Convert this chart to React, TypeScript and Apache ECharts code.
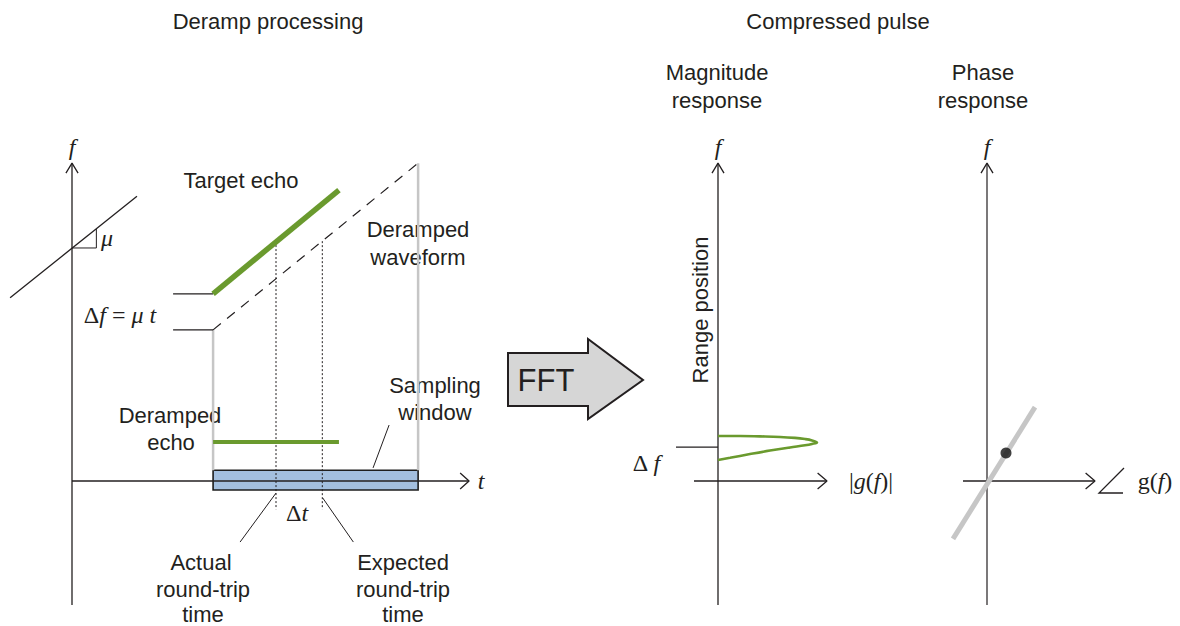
import React, { useEffect, useRef } from "react";
import * as echarts from "echarts";

// ---------- Deramp processing panel (t, f units) ----------
const fAxisDeramp = [[0, -6.36], [0, 16.3]];
const fArrowDeramp = [[-0.3, 15.79], [0, 16.3], [0.3, 15.79]];
const tAxis = [[0, 0], [19.56, 0]];
const tArrow = [[19.12, 0.41], [19.56, 0], [19.12, -0.41]];
const chirpRef = [[-3.05, 9.4], [3.2, 14.6]];
const slopeTriangle = [[0, 11.95], [1.2, 11.95], [1.2, 12.92]];
const targetTick = [[4.98, 9.6], [6.95, 9.6]];
const derampTick = [[4.98, 7.75], [6.95, 7.75]];
const windowEdgeStart = [[6.95, 7.75], [6.95, 0.55]];
const windowEdgeEnd = [[17.05, 16.3], [17.05, 0.55]];
const actualTime = [[10.05, 12.1], [10.05, -1.45]];
const expectedTime = [[12.33, 12.3], [12.33, -1.45]];
const derampedWaveform = [[6.95, 7.75], [17.05, 16.3]];
const targetEcho = [[6.95, 9.6], [13.15, 14.92]];
const derampedEcho = [[6.95, 2], [13.15, 2]];
const samplingWindow = [[6.95, 0.55], [17.05, -0.46]];
const windowLeader = [[14.83, 0.67], [15.62, 2.87]];
const actualLeader = [[10.05, -0.62], [8.28, -3.13]];
const expectedLeader = [[12.35, -0.87], [13.86, -3.13]];

// ---------- Magnitude response panel (|g|, f units) ----------
const fAxisMag = [[0, -6.36], [0, 16.3]];
const fArrowMag = [[-0.3, 15.79], [0, 16.3], [0.3, 15.79]];
const gAxisMag = [[-1.2, 0], [5.45, 0]];
const gArrowMag = [[4.98, 0.41], [5.45, 0], [4.98, -0.41]];
const deltaFTick = [[-2.1, 1.74], [0, 1.74]];
const magnitudeCurve = [
  [0, 2.31], [1.1, 2.31], [2.1, 2.29], [3.1, 2.26], [3.85, 2.21], [4.35, 2.15],
  [4.7, 2.08], [4.95, 1.98], [4.7, 1.9], [4.35, 1.83], [3.6, 1.72], [2.6, 1.56],
  [1.6, 1.38], [0.6, 1.19], [0, 1.08],
];

// ---------- Phase response panel (angle, f units) ----------
const fAxisPhase = [[0, -6.36], [0, 16.3]];
const fArrowPhase = [[-0.3, 15.79], [0, 16.3], [0.3, 15.79]];
const gAxisPhase = [[-1.2, 0], [5.4, 0]];
const gArrowPhase = [[4.93, 0.41], [5.4, 0], [4.93, -0.41]];
const phaseLine = [[-1.7, -2.97], [2.4, 3.79]];
const phasePoint = [[0.95, 1.44]];

const SANS = "'Liberation Sans', Arial, sans-serif";
const SERIF = "'Liberation Serif', 'DejaVu Serif', serif";
const INK = "#231f20";
const GREEN = "#6a9a2e";
const GRAY = "#c6c6c6";

function seg(data: number[][], g: number, color = INK, width = 1.3, type: any = "solid", z = 3): any {
  return {
    type: "line",
    xAxisIndex: g,
    yAxisIndex: g,
    data,
    symbol: "none",
    silent: true,
    z,
    lineStyle: { color, width, type, cap: "butt" },
  };
}

function txt(x: number, y: number, text: string, font = `22px ${SANS}`, extra: any = {}): any {
  return {
    type: "text",
    x,
    y,
    silent: true,
    ...extra,
    style: { text, font, fill: INK, textAlign: "center", textVerticalAlign: "middle", ...(extra.style || {}) },
  };
}

function mathTxt(x: number, y: number, text: string): any {
  return {
    type: "text",
    x,
    y,
    silent: true,
    style: {
      text,
      textAlign: "center",
      textVerticalAlign: "middle",
      fill: INK,
      rich: {
        n: { font: `24px ${SERIF}`, fill: INK },
        i: { font: `italic 24px ${SERIF}`, fill: INK },
      },
    },
  };
}

export default function App() {
  const ref = useRef<HTMLDivElement>(null);
  useEffect(() => {
    const chart = echarts.init(ref.current!, undefined, { renderer: "svg" });
    const hiddenX = (min: number, max: number, gi: number) => ({ type: "value", gridIndex: gi, min, max, show: false });
    const hiddenY = (gi: number) => ({ type: "value", gridIndex: gi, min: -6.5, max: 17.5, show: false });

    const italic = `italic 24px ${SERIF}`;
    const option: any = {
      animation: false,
      backgroundColor: "#ffffff",
      grid: [
        { left: 7.04, top: 139.75, width: 470.96, height: 468 },
        { left: 668, top: 139.75, width: 170, height: 468 },
        { left: 947, top: 139.75, width: 160, height: 468 },
      ],
      xAxis: [hiddenX(-3.2, 20, 0), hiddenX(-2.5, 6, 1), hiddenX(-2, 6, 2)],
      yAxis: [hiddenY(0), hiddenY(1), hiddenY(2)],
      series: [
        {
          type: "line",
          xAxisIndex: 0,
          yAxisIndex: 0,
          data: [],
          symbol: "none",
          silent: true,
          markArea: {
            silent: true,
            label: { show: false },
            itemStyle: { color: "#a3bfdf", borderColor: "#1e1e1e", borderWidth: 1.6 },
            data: [[{ coord: samplingWindow[0] }, { coord: samplingWindow[1] }]],
          },
        },
        seg(windowEdgeStart, 0, GRAY, 2.5),
        seg(windowEdgeEnd, 0, GRAY, 2.5),
        seg(fAxisDeramp, 0),
        seg(fArrowDeramp, 0),
        seg(tAxis, 0),
        seg(tArrow, 0),
        seg(chirpRef, 0),
        seg(slopeTriangle, 0, INK, 1),
        seg(targetTick, 0),
        seg(derampTick, 0),
        seg(actualTime, 0, INK, 1, [2, 2]),
        seg(expectedTime, 0, INK, 1, [2, 2]),
        seg(derampedWaveform, 0, INK, 1.2, [10, 8]),
        seg(targetEcho, 0, GREEN, 5.5, "solid", 4),
        seg(derampedEcho, 0, GREEN, 4, "solid", 4),
        seg(windowLeader, 0, INK, 1),
        seg(actualLeader, 0, INK, 1),
        seg(expectedLeader, 0, INK, 1),
        // magnitude
        seg(fAxisMag, 1),
        seg(fArrowMag, 1),
        seg(gAxisMag, 1),
        seg(gArrowMag, 1),
        seg(deltaFTick, 1),
        { ...seg(magnitudeCurve, 1, GREEN, 2.6, "solid", 4), smooth: 0.4 },
        // phase
        seg(fAxisPhase, 2, INK, 1.2),
        seg(fArrowPhase, 2),
        seg(gAxisPhase, 2),
        seg(gArrowPhase, 2),
        seg(phaseLine, 2, GRAY, 5, "solid", 4),
        {
          type: "scatter",
          xAxisIndex: 2,
          yAxisIndex: 2,
          data: phasePoint,
          symbol: "circle",
          symbolSize: 11,
          silent: true,
          z: 6,
          itemStyle: { color: "#111111" },
        },
      ],
      graphic: [
        txt(268, 21, "Deramp processing"),
        txt(838, 21, "Compressed pulse"),
        txt(717, 72, "Magnitude"),
        txt(717, 100, "response"),
        txt(983, 72, "Phase"),
        txt(983, 100, "response"),
        txt(72, 147, "f", italic),
        txt(718, 147, "f", italic),
        txt(987, 147, "f", italic),
        txt(241, 180, "Target echo"),
        txt(418, 229, "Deramped"),
        txt(418, 257, "waveform"),
        txt(107, 238, "μ", italic),
        mathTxt(120, 315, "{n|Δ}{i|f}{n| = }{i|μ t}"),
        txt(435, 385, "Sampling"),
        txt(435, 412, "window"),
        txt(170, 415, "Deramped"),
        txt(171, 442, "echo"),
        txt(481, 481, "t", italic),
        mathTxt(297, 513, "{n|Δ}{i|t}"),
        txt(201, 562, "Actual"),
        txt(203, 589, "round-trip"),
        txt(203, 614, "time"),
        txt(403, 562, "Expected"),
        txt(403, 589, "round-trip"),
        txt(403, 614, "time"),
        {
          type: "polygon",
          silent: true,
          shape: { points: [[508, 353], [588, 353], [588, 339], [643, 380], [588, 419], [588, 406], [508, 406]] },
          style: { fill: "#d6d6d6", stroke: INK, lineWidth: 2 },
        },
        txt(546, 380, "FFT", `31px ${SANS}`),
        txt(700, 310, "Range position", `22px ${SANS}`, { rotation: Math.PI / 2 }),
        mathTxt(646, 463, "{n|Δ }{i|f}"),
        mathTxt(871, 481, "{n||}{i|g}{n|(}{i|f}{n|)|}"),
        {
          type: "polyline",
          silent: true,
          shape: { points: [[1124, 468], [1099, 493], [1123, 493]] },
          style: { stroke: INK, lineWidth: 1.3, fill: null },
        },
        mathTxt(1155, 481, "{n|g(}{i|f}{n|)}"),
      ],
    };
    chart.setOption(option);
    return () => chart.dispose();
  }, []);
  return (
    <div
      ref={ref}
      style={{ position: "fixed", left: 0, top: 0, width: 1180, height: 626, background: "#ffffff" }}
    />
  );
}
